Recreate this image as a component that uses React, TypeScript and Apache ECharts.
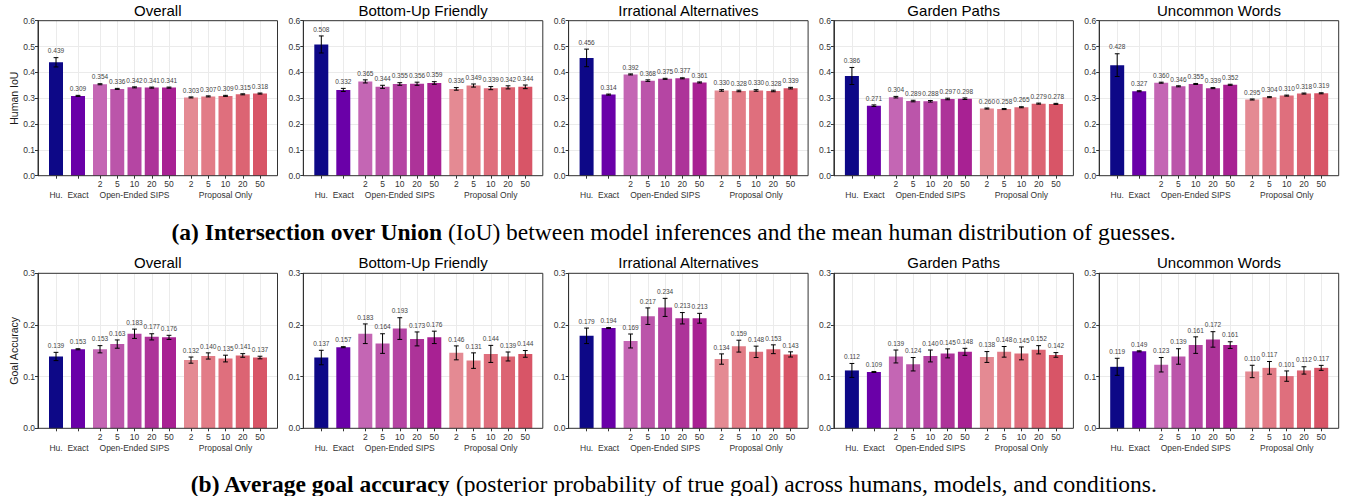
import React, { useEffect, useRef } from 'react';
import * as echarts from 'echarts';

// Facets and x-axis structure
const panelTitles = ['Overall', 'Bottom-Up Friendly', 'Irrational Alternatives', 'Garden Paths', 'Uncommon Words'];
const groupNames = ['Hu.', 'Exact', 'Open-Ended SIPS', 'Proposal Only'];
const groupSizes = [1, 1, 5, 5];
const sampleCounts = ['2', '5', '10', '20', '50'];

// One colour per bar: human, exact inference, SIPS (2..50), proposal only (2..50)
const barColors = [
  '#0d0887', '#6a00a8',
  '#c466b4', '#bb55aa', '#b545a3', '#ad3399', '#a82193',
  '#e48a93', '#e27c87', '#df6f7d', '#dc6473', '#d85567',
];

// Human IoU (mean) per condition
const iouOverall = [0.439, 0.309, 0.354, 0.336, 0.342, 0.341, 0.341, 0.303, 0.307, 0.309, 0.315, 0.318];
const iouBottomUp = [0.508, 0.332, 0.365, 0.344, 0.355, 0.356, 0.359, 0.336, 0.349, 0.339, 0.342, 0.344];
const iouIrrational = [0.456, 0.314, 0.392, 0.368, 0.375, 0.377, 0.361, 0.330, 0.328, 0.330, 0.328, 0.339];
const iouGarden = [0.386, 0.271, 0.304, 0.289, 0.288, 0.297, 0.298, 0.260, 0.258, 0.265, 0.279, 0.278];
const iouUncommon = [0.428, 0.327, 0.360, 0.346, 0.355, 0.339, 0.352, 0.295, 0.304, 0.310, 0.318, 0.319];

// Human IoU standard errors
const iouOverallErr = [0.018, 0.002, 0.002, 0.002, 0.002, 0.002, 0.002, 0.002, 0.002, 0.002, 0.002, 0.002];
const iouBottomUpErr = [0.033, 0.006, 0.006, 0.006, 0.005, 0.006, 0.005, 0.005, 0.006, 0.006, 0.006, 0.007];
const iouIrrationalErr = [0.034, 0.002, 0.002, 0.003, 0.002, 0.002, 0.002, 0.003, 0.003, 0.003, 0.003, 0.003];
const iouGardenErr = [0.033, 0.003, 0.003, 0.003, 0.003, 0.003, 0.003, 0.002, 0.002, 0.002, 0.002, 0.002];
const iouUncommonErr = [0.044, 0.002, 0.002, 0.002, 0.002, 0.002, 0.002, 0.002, 0.002, 0.002, 0.002, 0.002];

// Goal accuracy (mean) per condition
const accOverall = [0.139, 0.153, 0.153, 0.163, 0.183, 0.177, 0.176, 0.132, 0.140, 0.135, 0.141, 0.137];
const accBottomUp = [0.137, 0.157, 0.183, 0.164, 0.193, 0.173, 0.176, 0.146, 0.131, 0.144, 0.139, 0.144];
const accIrrational = [0.179, 0.194, 0.169, 0.217, 0.234, 0.213, 0.213, 0.134, 0.159, 0.148, 0.153, 0.143];
const accGarden = [0.112, 0.109, 0.139, 0.124, 0.140, 0.145, 0.148, 0.138, 0.148, 0.145, 0.152, 0.142];
const accUncommon = [0.119, 0.149, 0.123, 0.139, 0.161, 0.172, 0.161, 0.110, 0.117, 0.101, 0.112, 0.117];

// Goal accuracy standard errors
const accOverallErr = [0.008, 0.001, 0.007, 0.008, 0.009, 0.006, 0.004, 0.006, 0.006, 0.0065, 0.0035, 0.0025];
const accBottomUpErr = [0.014, 0.001, 0.019, 0.019, 0.021, 0.0135, 0.012, 0.0135, 0.015, 0.0165, 0.0087, 0.0065];
const accIrrationalErr = [0.015, 0.001, 0.0135, 0.016, 0.0175, 0.011, 0.0095, 0.010, 0.0115, 0.011, 0.0085, 0.005];
const accGardenErr = [0.0135, 0.001, 0.0125, 0.013, 0.0115, 0.0087, 0.0068, 0.0105, 0.0103, 0.0125, 0.008, 0.0045];
const accUncommonErr = [0.0165, 0.001, 0.014, 0.015, 0.016, 0.015, 0.0065, 0.012, 0.0123, 0.010, 0.0071, 0.0048];

const rows = [
  {
    yName: 'Human IoU',
    yMax: 0.6,
    values: [iouOverall, iouBottomUp, iouIrrational, iouGarden, iouUncommon],
    errors: [iouOverallErr, iouBottomUpErr, iouIrrationalErr, iouGardenErr, iouUncommonErr],
  },
  {
    yName: 'Goal Accuracy',
    yMax: 0.3,
    values: [accOverall, accBottomUp, accIrrational, accGarden, accUncommon],
    errors: [accOverallErr, accBottomUpErr, accIrrationalErr, accGardenErr, accUncommonErr],
  },
];

const captionA = ['(a) Intersection over Union', ' (IoU) between model inferences and the mean human distribution of guesses.'];
const captionB = ['(b) Average goal accuracy', ' (posterior probability of true goal) across humans, models, and conditions.'];

// Layout (pixels)
const SANS = "'Liberation Sans', Arial, Helvetica, sans-serif";
const SERIF = "'Liberation Serif', 'Times New Roman', Times, serif";
const PANEL_LEFT0 = 38;
const PANEL_STEP = 265.3;
const PANEL_W = 239.5;
const ROW_TOP = [20.7, 273.3];
const ROW_H = 155;
const EDGE = 18;
const SLOT = 17.25;
const GAP = 22;
const BAR_W = 14;
const CAPTION_SIZE = 23.5;
const CAPTION_Y = [232, 483.5];
const AXIS_COLOR = '#333333';
const GRID_COLOR = '#ebebeb';
const TEXT_COLOR = '#333333';

function groupFirstCenter(g: number): number {
  if (g === 0) return EDGE;
  if (g === 1) return EDGE + GAP;
  if (g === 2) return EDGE + 2 * GAP;
  return EDGE + 3 * GAP + 4 * SLOT;
}

function buildOption() {
  const grid: any[] = [];
  const xAxis: any[] = [];
  const yAxis: any[] = [];
  const series: any[] = [];
  const graphic: any[] = [];

  rows.forEach((row, r) => {
    const top = ROW_TOP[r];
    panelTitles.forEach((title, p) => {
      const left = PANEL_LEFT0 + p * PANEL_STEP;

      // Panel frame: border, y axis and horizontal grid
      const frameIdx = grid.length;
      grid.push({
        left, top, width: PANEL_W, height: ROW_H,
        show: true, backgroundColor: 'transparent',
        borderColor: AXIS_COLOR, borderWidth: 1, z: 5,
      });
      xAxis.push({ type: 'value', gridIndex: frameIdx, min: 0, max: 1, show: false });
      yAxis.push({
        type: 'value', gridIndex: frameIdx, min: 0, max: row.yMax, interval: 0.1,
        axisLine: { show: true, lineStyle: { color: AXIS_COLOR, width: 1 } },
        axisTick: { show: true, length: 3, lineStyle: { color: AXIS_COLOR } },
        axisLabel: {
          fontSize: 8.5, color: TEXT_COLOR, fontFamily: SANS, margin: 3,
          formatter: (v: number) => v.toFixed(1),
        },
        splitLine: { show: true, lineStyle: { color: GRID_COLOR, width: 1 } },
        name: p === 0 ? row.yName : '',
        nameLocation: 'middle',
        nameGap: 19,
        nameTextStyle: { fontSize: 10.5, color: '#1a1a1a', fontFamily: SANS },
      });

      graphic.push({
        type: 'text',
        x: left + PANEL_W / 2,
        y: top - 10.5,
        style: {
          text: title, fontSize: 15, fontFamily: SANS, fill: '#000',
          align: 'center', verticalAlign: 'middle',
          textAlign: 'center', textVerticalAlign: 'middle',
        },
      });

      // One sub-grid per model group so gaps separate the groups
      let barIdx = 0;
      groupNames.forEach((gName, g) => {
        const n = groupSizes[g];
        const gi = grid.length;
        const c0 = groupFirstCenter(g);
        grid.push({ left: left + c0 - SLOT / 2, top, width: n * SLOT, height: ROW_H, show: false });
        const cats = n === 1 ? [''] : sampleCounts.slice(0, n);
        xAxis.push({
          type: 'category', gridIndex: gi, data: cats, boundaryGap: true,
          axisLine: { show: false },
          axisTick: { show: true, alignWithLabel: true, length: 3, lineStyle: { color: AXIS_COLOR } },
          axisLabel: { show: true, interval: 0, fontSize: 8.5, color: TEXT_COLOR, fontFamily: SANS, margin: 4 },
          splitLine: { show: true, interval: 0, alignWithLabel: true, lineStyle: { color: GRID_COLOR, width: 1 } },
          name: gName, nameLocation: 'middle', nameGap: 15,
          nameTextStyle: { fontSize: 8.5, color: TEXT_COLOR, fontFamily: SANS },
        });
        yAxis.push({ type: 'value', gridIndex: gi, min: 0, max: row.yMax, show: false, splitLine: { show: false } });

        const vals = row.values[p].slice(barIdx, barIdx + n);
        const errs = row.errors[p].slice(barIdx, barIdx + n);
        const cols = barColors.slice(barIdx, barIdx + n);
        barIdx += n;

        series.push({
          type: 'bar', xAxisIndex: gi, yAxisIndex: gi, barWidth: BAR_W, z: 2,
          data: vals.map((v, i) => ({ value: v, itemStyle: { color: cols[i] } })),
        });
        series.push({
          type: 'custom', xAxisIndex: gi, yAxisIndex: gi, z: 3,
          encode: { x: 0, y: 1 },
          data: vals.map((v, i) => [i, v, errs[i]]),
          renderItem: (params: any, api: any) => {
            const x = api.value(0);
            const v = api.value(1);
            const e = api.value(2);
            const hi = api.coord([x, v + e]);
            const lo = api.coord([x, v - e]);
            const cx = hi[0];
            const cap = 2.4;
            const stroke = { stroke: '#000', lineWidth: 1 };
            return {
              type: 'group',
              children: [
                { type: 'line', shape: { x1: cx, y1: hi[1], x2: cx, y2: lo[1] }, style: stroke },
                { type: 'line', shape: { x1: cx - cap, y1: hi[1], x2: cx + cap, y2: hi[1] }, style: stroke },
                { type: 'line', shape: { x1: cx - cap, y1: lo[1], x2: cx + cap, y2: lo[1] }, style: stroke },
                {
                  type: 'text', x: cx, y: hi[1] - 3.3,
                  style: {
                    text: v.toFixed(3), fontSize: 6.5, fontFamily: SANS, fill: '#444',
                    align: 'center', verticalAlign: 'bottom',
                    textAlign: 'center', textVerticalAlign: 'bottom',
                  },
                },
              ],
            };
          },
        });
      });
    });
  });

  const captionRich = (size: number) => ({
    b: { fontSize: size, fontFamily: SERIF, fontWeight: 'bold', fill: '#000', color: '#000' },
    n: { fontSize: size, fontFamily: SERIF, fontWeight: 'normal', fill: '#000', color: '#000' },
  });
  [captionA, captionB].forEach((cap, i) => {
    graphic.push({
      type: 'text', x: 673.5, y: CAPTION_Y[i],
      style: {
        text: `{b|${cap[0]}}{n|${cap[1]}}`,
        rich: captionRich(CAPTION_SIZE),
        fontSize: CAPTION_SIZE, fontFamily: SERIF, fill: '#000',
        align: 'center', verticalAlign: 'middle',
        textAlign: 'center', textVerticalAlign: 'middle',
      },
    });
  });

  return {
    animation: false,
    backgroundColor: '#ffffff',
    textStyle: { fontFamily: SANS },
    grid, xAxis, yAxis, series, graphic,
  };
}

export default function App() {
  const ref = useRef<HTMLDivElement>(null);
  useEffect(() => {
    if (!ref.current) return;
    const chart = echarts.init(ref.current, undefined, { renderer: 'svg' });
    chart.setOption(buildOption() as any);
    return () => chart.dispose();
  }, []);
  return (
    <div
      ref={ref}
      style={{ position: 'absolute', left: 0, top: 0, width: 1347, height: 496, background: '#fff' }}
    />
  );
}
